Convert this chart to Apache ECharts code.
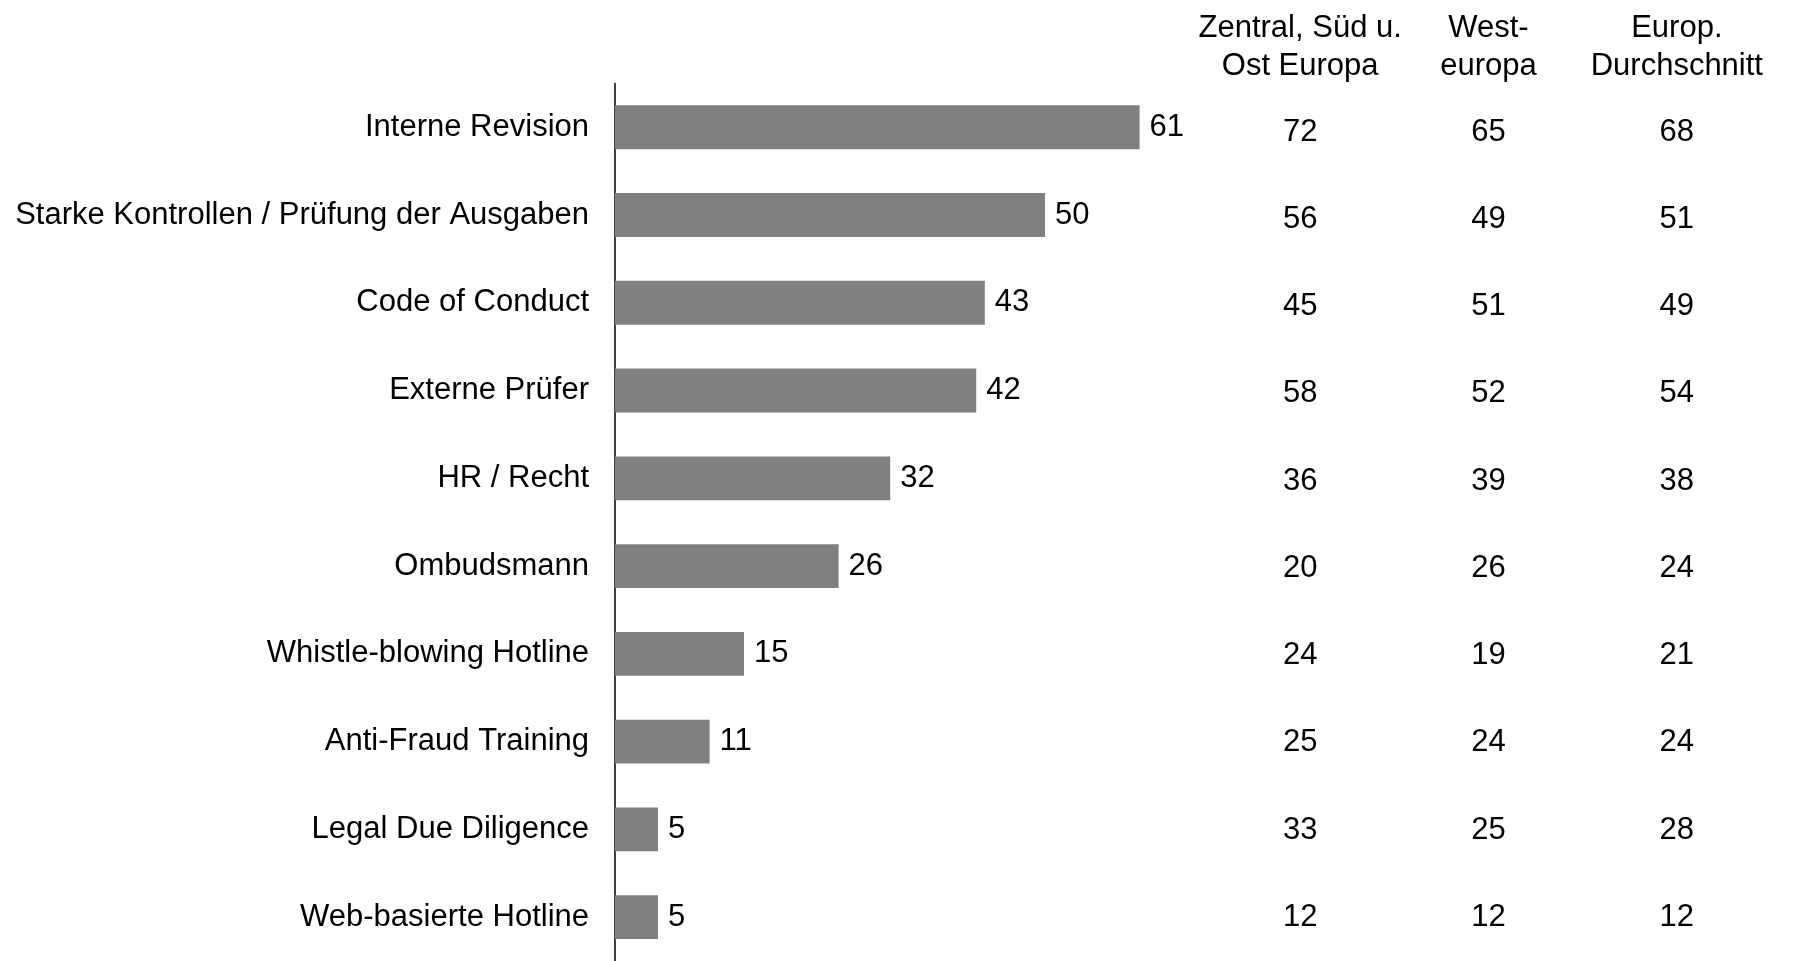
<!DOCTYPE html>
<html>
<head>
<meta charset="utf-8">
<script src="https://cdn.jsdelivr.net/npm/echarts@6/dist/echarts.min.js"></script>
<style>
html,body{margin:0;padding:0;background:#fff;}
#chart{width:1801px;height:961px;}
</style>
</head>
<body>
<div id="chart"></div>
<script>
// ---- data ----
const categories = [
  'Interne Revision',
  'Starke Kontrollen / Prüfung der Ausgaben',
  'Code of Conduct',
  'Externe Prüfer',
  'HR / Recht',
  'Ombudsmann',
  'Whistle-blowing Hotline',
  'Anti-Fraud Training',
  'Legal Due Diligence',
  'Web-basierte Hotline'
];
const barValues = [61, 50, 43, 42, 32, 26, 15, 11, 5, 5];
const columnHeaders = ['Zentral, Süd u.\nOst Europa', 'West-\neuropa', 'Europ.\nDurchschnitt'];
const centralSouthEastValues = [72, 56, 45, 58, 36, 20, 24, 25, 33, 12];
const westernEuropeValues = [65, 49, 51, 52, 39, 26, 19, 24, 25, 12];
const europeAverageValues = [68, 51, 49, 54, 38, 24, 21, 24, 28, 12];

// ---- chart ----
const FONT = "'Liberation Sans', Arial, sans-serif";
const FS = 31;
const tableColumns = [centralSouthEastValues, westernEuropeValues, europeAverageValues];

const tableSeries = tableColumns.map((vals, c) => ({
  type: 'scatter',
  xAxisIndex: 1,
  yAxisIndex: 1,
  symbolSize: 1,
  itemStyle: { color: 'rgba(0,0,0,0)', opacity: 1 },
  silent: true,
  emphasis: { disabled: true },
  data: vals.map((v, i) => [c, i, v]),
  label: {
    show: true,
    position: 'inside',
    formatter: p => String(p.value[2]),
    fontSize: FS,
    fontFamily: FONT,
    color: '#000',
    opacity: 1,
    textBorderWidth: 0
  }
}));

const chart = echarts.init(document.getElementById('chart'), null, { renderer: 'canvas' });
chart.setOption({
  animation: false,
  backgroundColor: '#fff',
  grid: [
    { left: 615, top: 83.4, width: 860, height: 882.4, containLabel: false },
    { left: 1206, top: 88.4, width: 565, height: 882.4, containLabel: false }
  ],
  xAxis: [
    { type: 'value', gridIndex: 0, min: 0, max: 100, show: false },
    {
      type: 'category', gridIndex: 1, data: columnHeaders, position: 'top',
      axisLine: { show: false }, axisTick: { show: false }, splitLine: { show: false },
      axisLabel: { fontSize: FS, fontFamily: FONT, color: '#000', lineHeight: 38, margin: 3, align: 'center', interval: 0 }
    }
  ],
  yAxis: [
    {
      type: 'category', gridIndex: 0, data: categories, inverse: true,
      axisLine: { show: true, lineStyle: { color: '#000', width: 1.5 } },
      axisTick: { show: false },
      splitLine: { show: false },
      axisLabel: { fontSize: FS, fontFamily: FONT, color: '#000', margin: 26, interval: 0, padding: [7, 0, 0, 0] }
    },
    {
      type: 'category', gridIndex: 1, data: categories, inverse: true, show: false
    }
  ],
  series: [
    {
      type: 'bar',
      xAxisIndex: 0,
      yAxisIndex: 0,
      data: barValues,
      barWidth: '50%',
      itemStyle: { color: '#808080' },
      label: {
        show: true,
        position: 'right',
        distance: 10,
        fontSize: FS,
        fontFamily: FONT,
        color: '#000',
        padding: [7, 0, 0, 0]
      }
    }
  ].concat(tableSeries)
});
</script>
</body>
</html>
